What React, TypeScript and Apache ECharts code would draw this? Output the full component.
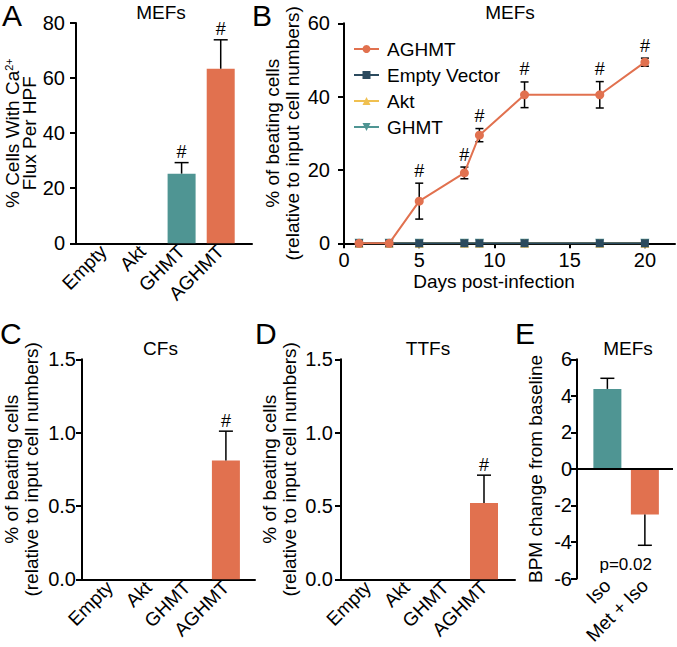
import React, { useEffect, useRef } from "react";
import * as echarts from "echarts";

const FONT = '"Liberation Sans", Arial, Helvetica, sans-serif';
const ORANGE = "#E1714F";
const TEAL = "#4F9593";
const NAVY = "#2B4A5E";
const GOLD = "#F0C050";

// Panel A – MEFs, Ca2+ flux
const catsA = ["Empty", "Akt", "GHMT", "AGHMT"];
const valuesA = [0, 0, 25.3, 63.4];
const errA = [0, 0, 4.0, 10.5];
const sigA = [0, 0, 1, 1];
const colorsA = [TEAL, TEAL, TEAL, ORANGE];

// Panel B – MEFs time course
const daysB = [1, 3, 5, 8, 9, 12, 17, 20];
const aghmtB = [0, 0, 11.5, 19.2, 29.5, 40.5, 40.5, 49.4];
const aghmtErrB = [0, 0, 4.9, 1.6, 1.8, 3.5, 3.6, 1.1];
const aghmtSigB = [0, 0, 1, 1, 1, 1, 1, 1];
const emptyVectorB = [0, 0, 0, 0, 0, 0, 0, 0];
const aktB = [0, 0, 0, 0, 0, 0, 0, 0];
const ghmtB = [0, 0, 0, 0, 0, 0, 0, 0];
const xTicksB = [0, 5, 10, 15, 20];

// Panel C – CFs
const catsC = ["Empty", "Akt", "GHMT", "AGHMT"];
const valuesC = [0, 0, 0, 0.81];
const errC = [0, 0, 0, 0.2];
const sigC = [0, 0, 0, 1];

// Panel D – TTFs
const catsD = ["Empty", "Akt", "GHMT", "AGHMT"];
const valuesD = [0, 0, 0, 0.52];
const errD = [0, 0, 0, 0.19];
const sigD = [0, 0, 0, 1];

// Panel E – BPM change
const catsE = ["Iso", "Met + Iso"];
const valuesE = [4.38, -2.49];
const errE = [0.58, 1.69];
const colorsE = [TEAL, ORANGE];
const pTextE = "p=0.02";

const pos = (arr: any[]) => arr.map((_, i) => i + 1);

function errRender(capW: number, twoSided: boolean, hashOffset: number) {
  return (params: any, api: any) => {
    const x = api.value(0);
    const y = api.value(1);
    const e = api.value(2);
    const sig = api.value(3);
    if (!e) return null;
    const dir = y < 0 ? -1 : 1;
    const tip = api.coord([x, y + dir * e]);
    const base = api.coord([x, twoSided ? y - dir * e : y]);
    const ls = { stroke: "#000", lineWidth: 1.5 };
    const children: any[] = [
      { type: "line", shape: { x1: tip[0], y1: base[1], x2: tip[0], y2: tip[1] }, style: ls },
      { type: "line", shape: { x1: tip[0] - capW / 2, y1: tip[1], x2: tip[0] + capW / 2, y2: tip[1] }, style: ls },
    ];
    if (twoSided) {
      children.push({ type: "line", shape: { x1: tip[0] - capW / 2, y1: base[1], x2: tip[0] + capW / 2, y2: base[1] }, style: ls });
    }
    if (sig) {
      children.push({
        type: "text",
        style: {
          x: tip[0],
          y: tip[1] - hashOffset,
          text: "#",
          fill: "#000",
          fontSize: 18,
          fontFamily: FONT,
          textAlign: "center",
          textVerticalAlign: "middle",
          align: "center",
          verticalAlign: "middle",
        },
      });
    }
    return { type: "group", children };
  };
}

const axisLineStyle = { show: true, lineStyle: { color: "#000", width: 2 } };
const tickStyle = { show: true, length: 6, lineStyle: { color: "#000", width: 2 } };
const tickLabel = { color: "#000", fontSize: 20, fontFamily: FONT };
const catLabel = { color: "#000", fontSize: 19, fontFamily: FONT, rotate: 45 };
const nameStyle = { color: "#000", fontSize: 19, fontFamily: FONT, lineHeight: 20 };

function catXAxis(gridIndex: number, cats: string[], min: number, max: number, margin: number, extra: any = {}) {
  return {
    type: "value",
    gridIndex,
    min,
    max,
    axisLine: { ...axisLineStyle, onZero: false },
    axisTick: { show: false },
    splitLine: { show: false },
    axisLabel: {
      ...catLabel,
      margin,
      customValues: pos(cats),
      formatter: (v: number) => cats[Math.round(v) - 1] ?? "",
    },
    ...extra,
  };
}

function valYAxis(gridIndex: number, min: number, max: number, interval: number, margin: number, name: string, nameGap: number, fmt?: (v: number) => string, nameExtra: any = {}) {
  return {
    type: "value",
    gridIndex,
    min,
    max,
    interval,
    axisLine: { ...axisLineStyle, onZero: false },
    axisTick: tickStyle,
    splitLine: { show: false },
    axisLabel: { ...tickLabel, margin, formatter: fmt },
    name,
    nameLocation: "middle",
    nameRotate: 90,
    nameGap,
    nameTextStyle: { ...nameStyle, ...nameExtra },
  };
}

function text(x: number, y: number, t: string, size: number, align = "center", valign = "middle") {
  return {
    type: "text",
    x,
    y,
    style: {
      text: t,
      fill: "#000",
      fontSize: size,
      fontFamily: FONT,
      textAlign: align,
      textVerticalAlign: valign,
      align,
      verticalAlign: valign,
    },
  };
}

export default function App() {
  const ref = useRef<HTMLDivElement>(null);
  useEffect(() => {
    if (!ref.current) return;
    const chart = echarts.init(ref.current, null, { renderer: "svg" });
    const option: any = {
      animation: false,
      backgroundColor: "#fff",
      textStyle: { fontFamily: FONT },
      grid: [
        { left: 76, top: 23, width: 176, height: 220.3 },
        { left: 344, top: 23.3, width: 331, height: 220 },
        { left: 82, top: 359.3, width: 173, height: 220 },
        { left: 341, top: 359.3, width: 174, height: 220 },
        { left: 577, top: 359.3, width: 96, height: 220 },
      ],
      xAxis: [
        catXAxis(0, catsA, 0.3, 4.8, 5),
        {
          type: "value",
          gridIndex: 1,
          min: 0,
          max: 22,
          axisLine: { ...axisLineStyle, onZero: false },
          axisTick: { ...tickStyle, length: 5, customValues: xTicksB },
          splitLine: { show: false },
          axisLabel: { ...tickLabel, margin: 7, customValues: xTicksB },
          name: "Days post-infection",
          nameLocation: "middle",
          nameGap: 28,
          nameTextStyle: { ...nameStyle, padding: [0, 31, 0, 0] },
        },
        catXAxis(2, catsC, 0.29, 4.75, 5),
        catXAxis(3, catsD, 0.31, 4.8, 5),
        catXAxis(4, catsE, 0.19, 2.75, 4, { axisLine: { show: false } }),
      ],
      yAxis: [
        valYAxis(0, 0, 80, 20, 11, "% Cells With Ca{sup|2+}\nFlux Per HPF", 31, undefined, {
          lineHeight: 17,
          rich: { sup: { fontSize: 11, fontFamily: FONT, color: "#000", verticalAlign: "top", lineHeight: 17 } },
        }),
        valYAxis(1, 0, 60, 20, 14, "% of beating cells\n(relative to input cell numbers)", 42),
        valYAxis(2, 0, 1.5, 0.5, 6, "% of beating cells\n(relative to input cell numbers)", 41, (v) => v.toFixed(1)),
        valYAxis(3, 0, 1.5, 0.5, 8, "% of beating cells\n(relative to input cell numbers)", 42, (v) => v.toFixed(1)),
        valYAxis(4, -6, 6, 2, 5, "BPM change from baseline", 32),
      ],
      legend: {
        data: ["AGHMT", "Empty Vector", "Akt", "GHMT"],
        orient: "vertical",
        left: 353,
        top: 39,
        padding: 0,
        itemWidth: 25,
        itemHeight: 10,
        itemGap: 6,
        textStyle: { color: "#000", fontSize: 19, fontFamily: FONT, lineHeight: 20, padding: [0, 0, 0, 3] },
      },
      series: [
        // Panel A
        {
          type: "bar",
          xAxisIndex: 0,
          yAxisIndex: 0,
          barWidth: 28,
          data: valuesA.map((v, i) => ({ value: [i + 1, v], itemStyle: { color: colorsA[i] } })),
        },
        {
          type: "custom",
          xAxisIndex: 0,
          yAxisIndex: 0,
          renderItem: errRender(14, false, 11),
          data: valuesA.map((v, i) => [i + 1, v, errA[i], sigA[i]]),
          z: 3,
        },
        // Panel B
        {
          name: "GHMT",
          type: "line",
          xAxisIndex: 1,
          yAxisIndex: 1,
          data: daysB.map((d, i) => [d, ghmtB[i]]),
          color: TEAL,
          symbol: "triangle",
          symbolRotate: 180,
          symbolSize: 9,
          lineStyle: { width: 2 },
          z: 2,
        },
        {
          name: "Akt",
          type: "line",
          xAxisIndex: 1,
          yAxisIndex: 1,
          data: daysB.map((d, i) => [d, aktB[i]]),
          color: GOLD,
          symbol: "triangle",
          symbolSize: 9,
          lineStyle: { width: 2 },
          z: 2,
        },
        {
          name: "Empty Vector",
          type: "line",
          xAxisIndex: 1,
          yAxisIndex: 1,
          data: daysB.map((d, i) => [d, emptyVectorB[i]]),
          color: NAVY,
          symbol: "rect",
          symbolSize: 8,
          lineStyle: { width: 2 },
          z: 3,
        },
        {
          type: "custom",
          xAxisIndex: 1,
          yAxisIndex: 1,
          renderItem: errRender(8, true, 12.5),
          data: daysB.map((d, i) => [d, aghmtB[i], aghmtErrB[i], aghmtSigB[i]]),
          z: 4,
        },
        {
          name: "AGHMT",
          type: "line",
          xAxisIndex: 1,
          yAxisIndex: 1,
          data: daysB.map((d, i) => [d, aghmtB[i]]),
          color: ORANGE,
          symbol: "circle",
          symbolSize: 9,
          lineStyle: { width: 2 },
          z: 5,
        },
        // Panel C
        {
          type: "bar",
          xAxisIndex: 2,
          yAxisIndex: 2,
          barWidth: 28,
          data: valuesC.map((v, i) => ({ value: [i + 1, v], itemStyle: { color: ORANGE } })),
        },
        {
          type: "custom",
          xAxisIndex: 2,
          yAxisIndex: 2,
          renderItem: errRender(14, false, 10),
          data: valuesC.map((v, i) => [i + 1, v, errC[i], sigC[i]]),
          z: 3,
        },
        // Panel D
        {
          type: "bar",
          xAxisIndex: 3,
          yAxisIndex: 3,
          barWidth: 28,
          data: valuesD.map((v, i) => ({ value: [i + 1, v], itemStyle: { color: ORANGE } })),
        },
        {
          type: "custom",
          xAxisIndex: 3,
          yAxisIndex: 3,
          renderItem: errRender(14, false, 10),
          data: valuesD.map((v, i) => [i + 1, v, errD[i], sigD[i]]),
          z: 3,
        },
        // Panel E
        {
          type: "bar",
          xAxisIndex: 4,
          yAxisIndex: 4,
          barWidth: 28,
          data: valuesE.map((v, i) => ({ value: [i + 1, v], itemStyle: { color: colorsE[i] } })),
          markLine: {
            silent: true,
            symbol: ["none", "none"],
            label: { show: false },
            lineStyle: { color: "#000", width: 2, type: "solid" },
            data: [{ yAxis: 0 }],
          },
        },
        {
          type: "custom",
          xAxisIndex: 4,
          yAxisIndex: 4,
          renderItem: errRender(14, false, 10),
          data: valuesE.map((v, i) => [i + 1, v, errE[i], 0]),
          z: 3,
        },
      ],
      graphic: [
        text(2, 0, "A", 30, "left", "top"),
        text(252, 0, "B", 30, "left", "top"),
        text(0, 318, "C", 30, "left", "top"),
        text(255, 318, "D", 30, "left", "top"),
        text(515, 318.5, "E", 30, "left", "top"),
        text(161, 12.5, "MEFs", 19),
        text(510, 12, "MEFs", 19),
        text(160.5, 348, "CFs", 19),
        text(428, 348, "TTFs", 19),
        text(628, 348.5, "MEFs", 19),
        text(625.7, 564.3, pTextE, 17),
      ],
    };
    chart.setOption(option);
    return () => chart.dispose();
  }, []);
  return <div ref={ref} style={{ position: "fixed", left: 0, top: 0, width: 677, height: 647 }} />;
}
